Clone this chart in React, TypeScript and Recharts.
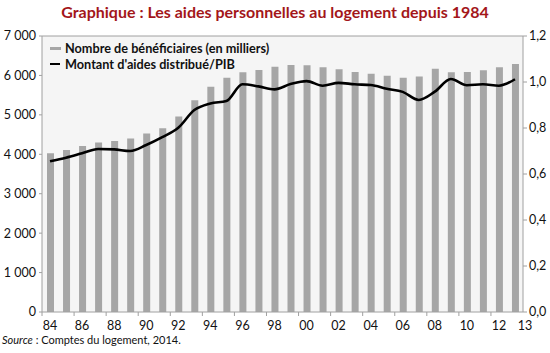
import { ComposedChart, Bar, Line, XAxis, YAxis, CartesianGrid, ReferenceLine } from "recharts";

const years = [
  "84", "85", "86", "87", "88", "89", "90", "91", "92", "93",
  "94", "95", "96", "97", "98", "99", "00", "01", "02", "03",
  "04", "05", "06", "07", "08", "09", "10", "11", "12", "13",
];

// Nombre de bénéficiaires (en milliers)
const beneficiaires = [
  4025, 4110, 4210, 4300, 4340, 4400, 4530, 4660, 4960, 5370,
  5710, 5940, 6080, 6140, 6220, 6265, 6255, 6205, 6155, 6090,
  6045, 5995, 5940, 5975, 6170, 6080, 6090, 6130, 6205, 6290,
];

// Montant d'aides distribué / PIB
const aidesPib = [
  0.655, 0.671, 0.69, 0.709, 0.707, 0.7, 0.726, 0.76, 0.801, 0.878,
  0.907, 0.917, 0.99, 0.981, 0.968, 0.991, 1.004, 0.984, 0.996, 0.99,
  0.987, 0.971, 0.957, 0.922, 0.958, 1.013, 0.986, 0.99, 0.984, 1.012,
];

const labeledYears = ["84", "86", "88", "90", "92", "94", "96", "98", "00", "02", "04", "06", "08", "10", "12", "13"];
const leftTicks = [0, 1000, 2000, 3000, 4000, 5000, 6000, 7000];
const rightTicks = [0, 0.2, 0.4, 0.6, 0.8, 1.0, 1.2];

const data = years.map((year, i) => ({
  year,
  benef: beneficiaires[i],
  pib: aidesPib[i],
}));

const FONT = "Lato, 'DejaVu Sans', sans-serif";
const BORDER = "#a0a0a0";

const fmtThousands = (v: number) => String(v).replace(/\B(?=(\d{3})+(?!\d))/g, " ");
const fmtRatio = (v: number) => v.toFixed(1).replace(".", ",");

function YearTick(props: any) {
  const { x, y, payload } = props;
  if (!labeledYears.includes(payload.value)) return <g />;
  const last = payload.value === "13";
  return (
    <g>
      {!last && <line x1={x - 8} x2={x - 8} y1={y - 9} y2={y - 5} stroke={BORDER} strokeWidth={1} />}
      <text
        x={last ? x + 10 : x}
        y={y}
        dy="0.71em"
        textAnchor="middle"
        fontSize={12.5}
        fontFamily={FONT}
        fill="#111"
      >
        {payload.value}
      </text>
    </g>
  );
}

export default function App() {
  return (
    <div style={{ position: "absolute", top: 0, left: 0, width: 550, height: 353, fontFamily: FONT, background: "#fff" }}>
      <ComposedChart
        width={550}
        height={353}
        data={data}
        margin={{ top: 36, right: 0, left: 0, bottom: 0 }}
        barCategoryGap={0}
      >
        <CartesianGrid fill="#f5f5f5" horizontal={false} vertical={false} yAxisId="left" />
        <XAxis
          dataKey="year"
          height={41}
          interval={0}
          tickLine={false}
          tickSize={4}
          tickMargin={5}
          axisLine={{ stroke: BORDER }}
          tick={<YearTick />}
        />
        <YAxis
          yAxisId="left"
          width={42}
          domain={[0, 7000]}
          ticks={leftTicks}
          tickFormatter={fmtThousands}
          tickSize={3}
          tickMargin={3}
          axisLine={{ stroke: BORDER }}
          tickLine={{ stroke: BORDER }}
          tick={{ fill: "#111", fontSize: 12.5, fontFamily: FONT }}
        />
        <YAxis
          yAxisId="right"
          orientation="right"
          width={27}
          domain={[0, 1.2]}
          ticks={rightTicks}
          tickFormatter={fmtRatio}
          tickSize={4}
          tickMargin={2}
          axisLine={{ stroke: BORDER }}
          tickLine={{ stroke: BORDER }}
          tick={{ fill: "#111", fontSize: 12.5, fontFamily: FONT, textAnchor: "start" }}
        />
        <ReferenceLine yAxisId="left" y={7000} stroke={BORDER} />
        <Bar yAxisId="left" dataKey="benef" fill="#a6a6a6" barSize={7} isAnimationActive={false} />
        <Line
          yAxisId="right"
          dataKey="pib"
          type="monotone"
          stroke="#000"
          strokeWidth={2.6}
          dot={false}
          activeDot={false}
          isAnimationActive={false}
        />
      </ComposedChart>

      <div
        style={{
          position: "absolute",
          top: 2,
          left: 0,
          width: 550,
          textAlign: "center",
          fontSize: 16,
          fontWeight: 700,
          color: "#a3161a",
        }}
      >
        Graphique : Les aides personnelles au logement depuis 1984
      </div>

      <div style={{ position: "absolute", top: 40, left: 50, fontSize: 12.7, fontWeight: 700, color: "#111", lineHeight: "16px" }}>
        <div style={{ display: "flex", alignItems: "center" }}>
          <span style={{ display: "inline-block", width: 11, height: 3, background: "#a6a6a6", marginRight: 4 }} />
          Nombre de bénéficiaires (en milliers)
        </div>
        <div style={{ display: "flex", alignItems: "center" }}>
          <span style={{ display: "inline-block", width: 10, height: 2, background: "#000", marginRight: 5 }} />
          Montant d'aides distribué/PIB
        </div>
      </div>

      <div style={{ position: "absolute", top: 333, left: 2, fontSize: 11, color: "#111" }}>
        <i>Source</i> : Comptes du logement, 2014.
      </div>
    </div>
  );
}
